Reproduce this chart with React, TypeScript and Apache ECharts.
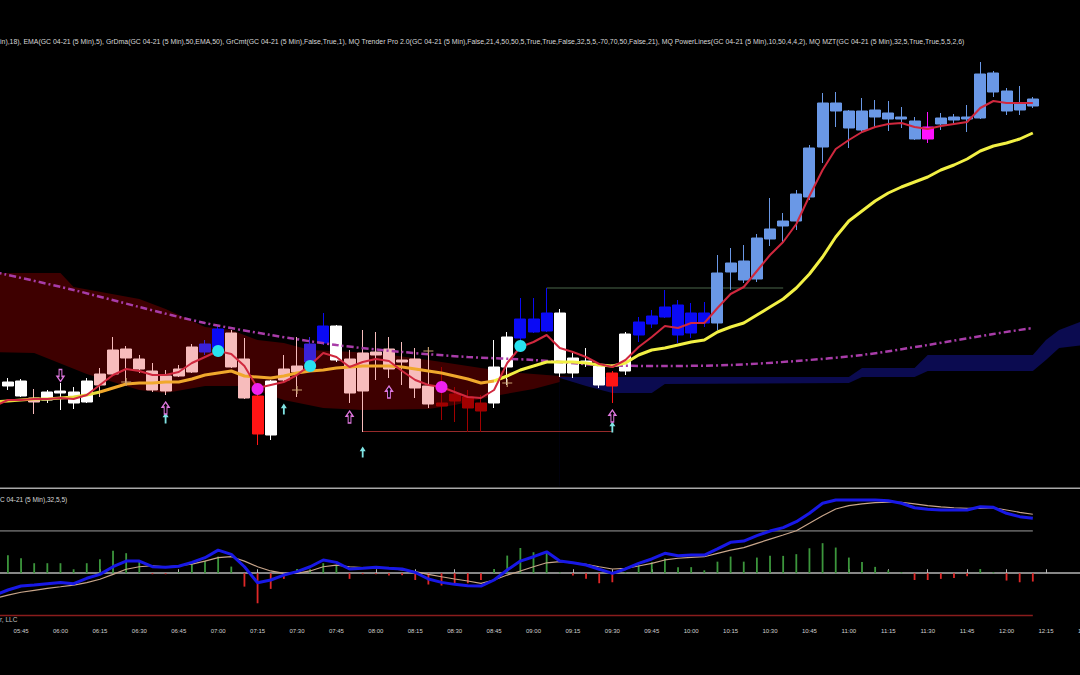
import React, { useEffect, useRef } from "react";
import * as echarts from "echarts";

// ---- categories: 5-minute bars from 05:35 to 12:30 ----
const times: string[] = [];
for (let m = 5 * 60 + 35; m <= 12 * 60 + 30; m += 5) {
  times.push(`${String(Math.floor(m / 60)).padStart(2, "0")}:${String(m % 60).padStart(2, "0")}`);
}

// ---- candles from 05:40 : [open, close, low, high] ----
const ohlc: number[][] = [
  [1726.4, 1726.8, 1726.0, 1727.2], [1725.4, 1726.9, 1725.3, 1727.1], [1725.2, 1724.8, 1723.6, 1726.1],
  [1725.0, 1725.8, 1724.7, 1726.0], [1725.7, 1725.9, 1724.0, 1726.7], [1724.7, 1725.8, 1724.1, 1726.3],
  [1724.8, 1726.9, 1724.7, 1727.2], [1727.6, 1726.5, 1725.3, 1728.2], [1730.0, 1727.6, 1727.5, 1731.3],
  [1730.1, 1729.2, 1726.7, 1730.4], [1729.1, 1728.1, 1727.7, 1729.5], [1727.9, 1726.0, 1725.8, 1728.7],
  [1727.4, 1725.9, 1725.5, 1728.0], [1728.1, 1727.4, 1727.3, 1728.5], [1730.3, 1727.8, 1727.7, 1730.6],
  [1729.8, 1730.6, 1729.5, 1731.0], [1730.2, 1732.1, 1729.8, 1732.5], [1731.7, 1728.3, 1728.2, 1732.0],
  [1729.1, 1725.2, 1725.1, 1731.2], [1725.4, 1721.6, 1720.5, 1725.6], [1721.5, 1726.9, 1721.0, 1727.0],
  [1728.1, 1727.0, 1726.7, 1729.5], [1728.4, 1727.8, 1725.3, 1731.3], [1728.8, 1730.6, 1728.6, 1731.3],
  [1730.7, 1732.4, 1730.5, 1733.7], [1729.0, 1732.4, 1728.8, 1732.5], [1729.1, 1725.7, 1724.7, 1730.0],
  [1729.7, 1725.9, 1721.8, 1732.0], [1729.8, 1729.5, 1727.0, 1731.8], [1730.1, 1728.1, 1727.2, 1731.3],
  [1729.0, 1728.8, 1726.5, 1730.8], [1729.1, 1726.2, 1725.2, 1730.2], [1726.4, 1724.6, 1724.2, 1730.0],
  [1724.7, 1724.4, 1723.0, 1728.3], [1725.6, 1724.9, 1722.8, 1726.3], [1725.3, 1724.2, 1721.8, 1726.0],
  [1724.7, 1723.9, 1721.8, 1725.5], [1724.7, 1728.3, 1724.2, 1731.0], [1728.3, 1731.3, 1726.5, 1731.8],
  [1731.2, 1733.1, 1730.4, 1735.2], [1731.8, 1733.1, 1731.7, 1735.2], [1731.9, 1733.7, 1731.8, 1736.2],
  [1733.7, 1727.7, 1727.3, 1734.1], [1727.7, 1729.2, 1727.2, 1729.7], [1728.7, 1728.9, 1728.3, 1730.2],
  [1728.4, 1726.5, 1726.2, 1728.7], [1727.7, 1726.4, 1724.7, 1727.9], [1727.9, 1731.6, 1727.5, 1731.8],
  [1731.5, 1732.8, 1730.8, 1733.3], [1732.6, 1733.4, 1732.2, 1734.0], [1733.3, 1734.3, 1733.2, 1736.0],
  [1734.5, 1731.5, 1730.7, 1735.0], [1731.7, 1733.7, 1731.2, 1734.7], [1732.7, 1733.7, 1732.3, 1734.8],
  [1732.7, 1737.7, 1732.0, 1739.5], [1737.8, 1738.7, 1736.0, 1740.2], [1737.0, 1738.9, 1736.7, 1740.5],
  [1737.1, 1741.2, 1736.8, 1741.6], [1741.1, 1742.1, 1740.4, 1745.2], [1742.4, 1742.9, 1740.8, 1743.7],
  [1742.9, 1745.6, 1742.0, 1746.0], [1745.3, 1750.2, 1745.0, 1750.5], [1750.3, 1754.7, 1748.7, 1755.7],
  [1754.7, 1753.9, 1752.3, 1755.8], [1753.9, 1752.2, 1750.2, 1754.0], [1752.0, 1753.9, 1751.8, 1755.2],
  [1753.3, 1754.0, 1752.3, 1755.0], [1753.7, 1753.1, 1751.9, 1754.9], [1753.1, 1753.3, 1752.2, 1754.3],
  [1752.9, 1751.1, 1751.0, 1753.3], [1751.1, 1752.3, 1750.7, 1753.8], [1752.6, 1753.2, 1752.0, 1753.7],
  [1753.0, 1753.3, 1752.5, 1753.6], [1753.1, 1753.3, 1751.8, 1754.5], [1753.2, 1757.6, 1753.1, 1758.8],
  [1757.7, 1755.8, 1755.3, 1757.9], [1755.9, 1753.9, 1753.5, 1756.2], [1754.0, 1754.7, 1753.5, 1756.4],
  [1754.4, 1755.1, 1754.2, 1755.3],
];

// painted bar state from the trend indicator
const tone: string[] = [
  "W", "W", "P", "W", "W", "W", "W", "P", "P", "P", "P", "P", "P", "P", "P", "BP", "B", "P", "P", "R",
  "W", "P", "P", "BP", "B", "W", "P", "P", "P", "P", "P", "P", "P", "DR", "DR", "DR", "DR", "W", "W", "B",
  "B", "B", "W", "W", "W", "W", "R", "W", "B", "B", "B", "B", "B", "B", "LB", "LB", "LB", "LB", "LB", "LB",
  "LB", "LB", "LB", "LB", "LB", "LB", "LB", "LB", "LB", "LB", "M", "LB", "LB", "LB", "LB", "LB", "LB", "LB", "LB",
];
const toneColor: Record<string, string> = {
  W: "#ffffff", P: "#f7bcbc", R: "#ff1414", DR: "#a00000", B: "#0a0af5", BP: "#3a22d8", LB: "#6a98e6", M: "#ff10ff",
};

// ---- overlays from 05:35 ----
const ema5 = [
  1724.4,
  1725.0, 1725.0, 1725.1, 1725.1, 1725.2, 1725.1, 1725.5, 1726.5, 1727.5, 1728.1,
  1727.9, 1727.5, 1727.5, 1727.8, 1728.7, 1729.3, 1729.9, 1729.6, 1728.4, 1726.2,
  1726.5, 1726.8, 1727.5, 1728.5, 1729.7, 1729.3, 1728.3, 1728.8, 1729.1, 1728.9,
  1727.9, 1727.0, 1726.5, 1726.3, 1725.8, 1725.3, 1725.2, 1726.0, 1728.7, 1730.3,
  1730.8, 1731.5, 1730.2, 1729.8, 1729.3, 1728.6, 1728.3, 1729.0, 1730.3, 1731.3,
  1732.4, 1732.2, 1732.7, 1732.7, 1734.2, 1735.6, 1736.3, 1737.9, 1739.5, 1740.8,
  1742.6, 1745.4, 1748.0, 1750.1, 1751.0, 1751.8, 1752.3, 1752.6, 1752.7, 1752.3,
  1752.1, 1752.4, 1752.6, 1752.8, 1754.2, 1754.9, 1754.7, 1754.7, 1754.7,
];
const dma50 = [
  1724.8,
  1724.9, 1725.0, 1725.1, 1725.1, 1725.2, 1725.3, 1725.5, 1725.8, 1726.2, 1726.6,
  1726.7, 1726.7, 1726.8, 1726.8, 1727.1, 1727.5, 1727.7, 1727.9, 1727.4, 1727.3,
  1727.2, 1727.4, 1727.7, 1727.9, 1728.0, 1728.2, 1728.3, 1728.4, 1728.4, 1728.4,
  1728.3, 1728.1, 1727.9, 1727.7, 1727.4, 1727.1, 1726.7, 1726.9, 1727.4, 1728.0,
  1728.4, 1728.8, 1728.8, 1728.8, 1728.7, 1728.5, 1728.4, 1728.7, 1729.5, 1730.0,
  1730.2, 1730.5, 1730.8, 1731.0, 1731.8, 1732.3, 1732.7, 1733.5, 1734.3, 1735.1,
  1736.2, 1737.6, 1739.3, 1741.3, 1742.9, 1743.9, 1744.9, 1745.7, 1746.3, 1746.8,
  1747.3, 1748.0, 1748.5, 1749.1, 1749.9, 1750.4, 1750.7, 1751.1, 1751.7,
];
const purpleLine = [
  ["05:35", 1737.8], ["06:05", 1736.0], ["06:30", 1734.3], ["06:55", 1732.7], ["07:20", 1731.5],
  ["07:45", 1730.5], ["08:10", 1729.8], ["08:35", 1729.3], ["09:00", 1729.0], ["09:25", 1728.5],
  ["09:50", 1728.4], ["10:15", 1728.5], ["10:40", 1728.9], ["11:05", 1729.5], ["11:30", 1730.5],
  ["11:55", 1731.6], ["12:10", 1732.2],
];
const redCloudTop = [
  ["05:35", 1737.7], ["06:00", 1737.7], ["06:05", 1736.3], ["06:30", 1735.1], ["06:40", 1734.1],
  ["06:55", 1732.3], ["07:05", 1732.0], ["07:15", 1731.0], ["07:25", 1730.7], ["07:35", 1730.0],
  ["08:00", 1729.7], ["08:20", 1729.0], ["08:40", 1728.2], ["08:55", 1727.7], ["09:05", 1727.5], ["09:15", 1727.3],
];
const redCloudBottom = [
  ["05:35", 1729.8], ["05:50", 1729.7], ["06:10", 1727.6], ["06:30", 1726.0], ["06:40", 1725.7],
  ["06:55", 1726.4], ["07:10", 1726.4], ["07:25", 1725.0], ["07:40", 1724.2], ["07:55", 1724.0],
  ["08:20", 1724.1], ["08:30", 1724.5], ["08:45", 1725.4], ["09:00", 1726.1], ["09:10", 1726.8], ["09:15", 1727.2],
];
const blueCloudTop = [
  ["09:10", 1727.3], ["09:20", 1727.3], ["09:45", 1727.3], ["11:00", 1727.3], ["11:05", 1728.2],
  ["11:25", 1728.2], ["11:30", 1729.5], ["12:10", 1729.5], ["12:15", 1731.0], ["12:20", 1732.0], ["12:30", 1733.0],
];
const blueCloudBottom = [
  ["09:10", 1727.2], ["09:20", 1726.4], ["09:30", 1725.7], ["09:45", 1725.7], ["09:50", 1726.6],
  ["11:00", 1726.7], ["11:05", 1727.3], ["11:25", 1727.3], ["11:30", 1727.9], ["12:10", 1727.9],
  ["12:15", 1729.0], ["12:20", 1730.2], ["12:30", 1730.5],
];
const lowBracket = [["07:55", 1721.85], ["09:30", 1721.85]];
const highBracket = [["09:05", 1736.2], ["10:35", 1736.2]];

const cyanDots = [["07:00", 1729.9], ["07:35", 1728.4], ["08:55", 1730.4]];
const magentaDots = [["07:15", 1726.1], ["08:25", 1726.3]];
const pinkUpArrows = [["06:40", 1724.2], ["07:50", 1723.3], ["08:05", 1725.8], ["09:30", 1723.4]];
const pinkDownArrows = [["06:00", 1727.45]];
const cyanUpArrows = [["06:40", 1723.2], ["07:25", 1724.1], ["07:55", 1719.8], ["09:30", 1722.3]];
const dojiCrosses = [["06:25", 1726.8], ["07:30", 1726.0], ["08:20", 1729.9], ["08:50", 1726.7]];

// ---- MZT lower panel ----
const mztHist = [
  12.8, 10.6, 7.1, 7.1, 7.1, 2.8, 7.1, 9.9, 16.0, 14.2,
  9.2, -0.7, -0.7, 0.7, 6.4, 8.9, 11.8, 4.7, -9.5, -21.3,
  -11.1, -4.0, 3.0, 2.8, 7.1, 5.7, -4.0, -0.7, -0.7, -1.6,
  -1.4, -4.8, -8.0, -8.7, -7.1, -7.1, -4.8, 3.0, 12.5, 17.9,
  14.9, 15.3, 0.7, -1.6, -4.0, -7.1, -6.4, 0.7, 5.7, 7.8,
  10.4, 4.3, 4.3, 2.1, 8.2, 11.8, 8.2, 11.1, 12.3, 12.3,
  13.5, 17.7, 21.3, 18.2, 11.1, 8.0, 4.5, 2.1, 0.7, -4.8,
  -4.8, -4.0, -3.3, -2.1, 3.0, 0.7, -5.2, -6.4, -5.9,
];
const mztFast = [
  -15.5,
  -11.9, -9.1, -8.4, -7.4, -6.5, -7.4, -3.6, -0.8, 4.6, 8.6,
  8.6, 4.6, 4.2, 4.9, 7.7, 11.0, 16.4, 13.4, 4.6, -6.7,
  -4.8, -1.3, 1.1, 4.6, 9.4, 7.7, 3.0, 3.5, 4.2, 3.5,
  3.0, 0.6, -4.1, -6.5, -7.9, -8.9, -9.1, -4.8, 2.3, 8.6,
  11.7, 15.2, 8.6, 7.4, 5.8, 2.8, -0.1, 3.0, 7.0, 10.1,
  14.1, 12.4, 12.9, 12.9, 17.2, 21.9, 22.8, 26.6, 29.9, 32.3,
  36.5, 42.5, 49.6, 51.9, 51.9, 51.9, 51.9, 51.4, 49.6, 46.4,
  45.3, 44.8, 44.8, 44.8, 47.1, 46.7, 42.5, 40.1, 38.9,
];
const mztSlow = [
  -17.8,
  -15.5, -13.5, -12.1, -10.7, -9.6, -8.4, -6.7, -4.3, -0.8, 2.8,
  4.6, 5.3, 4.6, 5.3, 6.5, 8.6, 11.0, 11.7, 8.6, 4.6,
  1.6, -0.1, -0.1, 1.6, 4.6, 5.8, 4.6, 3.9, 3.9, 3.5,
  2.3, 1.1, -0.8, -2.5, -4.1, -5.5, -7.2, -4.8, -1.3, 1.6,
  4.6, 7.4, 8.2, 7.4, 6.3, 4.6, 3.0, 3.5, 5.1, 7.0,
  9.4, 10.6, 11.3, 11.7, 14.1, 16.4, 18.1, 21.2, 24.2, 27.1,
  30.1, 35.4, 40.8, 45.5, 47.9, 49.1, 50.0, 50.3, 50.3, 49.1,
  47.9, 47.1, 46.4, 46.0, 46.0, 46.4, 44.8, 43.2, 41.8,
];
const mztLevels = [30, -30];

const legendText =
  "in),18), EMA(GC 04-21 (5 Min),5), GrDma(GC 04-21 (5 Min),50,EMA,50), GrCmt(GC 04-21 (5 Min),False,True,1), MQ Trender Pro 2.0(GC 04-21 (5 Min),False,21,4,50,50,5,True,True,False,32,5,5,-70,70,50,False,21), MQ PowerLines(GC 04-21 (5 Min),10,50,4,4,2), MQ MZT(GC 04-21 (5 Min),32,5,True,True,5,5,2,6)";
const panelText = "C 04-21 (5 Min),32,5,5)";
const footText = "r, LLC";

const FONT = '"Liberation Sans", Arial, sans-serif';
const quarter = (_i: number, v: string) => Number(v.slice(3)) % 15 === 0;

function buildOption(): any {
  const candleData = ohlc.map((c, i) => {
    const col = toneColor[tone[i]];
    return {
      value: [times[i + 1], c[0], c[1], c[2], c[3]],
      itemStyle: { color: col, color0: col, borderColor: col, borderColor0: col, borderWidth: 1 },
    };
  });
  const histData = mztHist.map((v, i) => ({
    value: [times[i + 1], v],
    itemStyle: { color: v >= 0 ? "#3c963c" : "#e02828" },
  }));
  const lastBar = times[ohlc.length];
  const seg = (from: number, to: number) => dma50.map((v, k) => (k >= from && k <= to ? v : null));
  const pinkArrow = "#e078e0";
  const lineBase = { type: "line", symbol: "none", silent: true, xAxisIndex: 0, yAxisIndex: 0, z: 4 };
  const cloudBase = { ...lineBase, z: 1, lineStyle: { width: 0 } };

  return {
    animation: false,
    backgroundColor: "#000000",
    grid: [
      { left: -11.8, right: -11.95, top: 40, height: 446, outerBoundsMode: "none", containLabel: false },
      { left: -11.8, right: -11.95, top: 490, height: 134, outerBoundsMode: "none", containLabel: false },
    ],
    xAxis: [
      { type: "category", gridIndex: 0, data: times, boundaryGap: true, show: false },
      {
        type: "category",
        gridIndex: 1,
        data: times,
        boundaryGap: true,
        axisLine: { show: true, lineStyle: { color: "#b4b4b4", width: 1.5 } },
        axisTick: { show: true, inside: true, length: 4, alignWithLabel: true, interval: quarter, lineStyle: { color: "#b4b4b4" } },
        axisLabel: { interval: quarter, color: "#d0d0d0", fontSize: 6, margin: 4, fontFamily: FONT },
        splitLine: { show: false },
      },
    ],
    yAxis: [
      { type: "value", gridIndex: 0, min: 1716.4, max: 1761.0, show: false, splitLine: { show: false } },
      { type: "value", gridIndex: 1, min: -36, max: 59, show: false, splitLine: { show: false } },
    ],
    graphic: [
      { type: "text", x: 0, y: 41, silent: true, style: { text: legendText, fill: "#d8d8d8", font: `6.92px ${FONT}`, textVerticalAlign: "middle" } },
      { type: "rect", silent: true, shape: { x: 0, y: 487.5, width: 1080, height: 1.6 }, style: { fill: "#a8a8a8" } },
      { type: "text", x: 0, y: 499, silent: true, style: { text: panelText, fill: "#d8d8d8", font: `6.5px ${FONT}`, textVerticalAlign: "middle" } },
      { type: "text", x: 0, y: 619, silent: true, style: { text: footText, fill: "#c0c0c0", font: `6.5px ${FONT}`, textVerticalAlign: "middle" } },
    ],
    series: [
      { ...cloudBase, name: "cloudRedTop", data: redCloudTop, areaStyle: { color: "#3e0000", opacity: 1, origin: "start" } },
      { ...cloudBase, name: "cloudRedBottom", data: redCloudBottom, areaStyle: { color: "#000000", opacity: 1, origin: "start" } },
      { ...cloudBase, name: "cloudBlueTop", data: blueCloudTop, areaStyle: { color: "#0b0b50", opacity: 1, origin: "start" } },
      { ...cloudBase, name: "cloudBlueBottom", data: blueCloudBottom, areaStyle: { color: "#000000", opacity: 1, origin: "start" } },
      { ...lineBase, z: 2, name: "lowBracket", data: lowBracket, lineStyle: { color: "#962a2a", width: 1.2 } },
      { ...lineBase, z: 2, name: "highBracket", data: highBracket, lineStyle: { color: "#4a664a", width: 1.2 } },
      {
        type: "candlestick",
        name: "GC 04-21",
        xAxisIndex: 0,
        yAxisIndex: 0,
        z: 3,
        barWidth: 11.5,
        encode: { x: 0, y: [1, 2, 3, 4] },
        data: candleData,
        silent: true,
      },
      { ...lineBase, name: "purple", data: purpleLine, smooth: 0.3, lineStyle: { color: "#a83ca8", width: 2.5, type: [7, 3, 2, 3] } },
      { ...lineBase, name: "dma50a", data: seg(0, 8), lineStyle: { color: "#e6dc3c", width: 3 } },
      { ...lineBase, name: "dma50b", data: seg(8, 38), lineStyle: { color: "#f0a82c", width: 3 } },
      { ...lineBase, name: "dma50c", data: seg(38, 80), lineStyle: { color: "#f2f044", width: 3 } },
      { ...lineBase, name: "ema5", data: ema5, lineStyle: { color: "#d0283e", width: 2 } },
      { type: "scatter", z: 5, xAxisIndex: 0, yAxisIndex: 0, silent: true, data: cyanDots, symbolSize: 12, itemStyle: { color: "#28e2f0", opacity: 1 } },
      { type: "scatter", z: 5, xAxisIndex: 0, yAxisIndex: 0, silent: true, data: magentaDots, symbolSize: 12, itemStyle: { color: "#ee22ee", opacity: 1 } },
      {
        type: "scatter", z: 5, xAxisIndex: 0, yAxisIndex: 0, silent: true, data: cyanUpArrows,
        symbol: "path://M5,0 L10,6 L6.5,6 L6.5,14 L3.5,14 L3.5,6 L0,6 Z", symbolSize: [6, 11],
        itemStyle: { color: "#80e4e4", opacity: 1 },
      },
      {
        type: "scatter", z: 5, xAxisIndex: 0, yAxisIndex: 0, silent: true, data: pinkUpArrows,
        symbol: "path://M5,0 L10,6 L7,6 L7,14 L3,14 L3,6 L0,6 Z", symbolSize: [7, 12],
        itemStyle: { color: "#000000", borderColor: pinkArrow, borderWidth: 1.3, opacity: 1 },
      },
      {
        type: "scatter", z: 5, xAxisIndex: 0, yAxisIndex: 0, silent: true, data: pinkDownArrows,
        symbol: "path://M5,14 L10,8 L7,8 L7,0 L3,0 L3,8 L0,8 Z", symbolSize: [7, 12],
        itemStyle: { color: "#000000", borderColor: pinkArrow, borderWidth: 1.3, opacity: 1 },
      },
      {
        type: "scatter", z: 5, xAxisIndex: 0, yAxisIndex: 0, silent: true, data: dojiCrosses,
        symbol: "path://M0,5 L10,5 M5,0 L5,10", symbolSize: [10, 8],
        itemStyle: { color: "rgba(0,0,0,0)", borderColor: "#c8a070", borderWidth: 1, opacity: 1 },
      },
      // lower panel
      { type: "bar", xAxisIndex: 1, yAxisIndex: 1, silent: true, barWidth: 1.8, data: histData, encode: { x: 0, y: 1 } },
      ...mztLevels.map((lv, j) => ({
        type: "line", xAxisIndex: 1, yAxisIndex: 1, symbol: "none", silent: true,
        data: [[times[0], lv], [lastBar, lv]],
        lineStyle: { color: j === 0 ? "#5a5a5a" : "#8a1c1c", width: 1.6 },
      })),
      { type: "line", xAxisIndex: 1, yAxisIndex: 1, symbol: "none", silent: true, data: mztSlow, lineStyle: { color: "#c8a58a", width: 1.2 } },
      { type: "line", xAxisIndex: 1, yAxisIndex: 1, symbol: "none", silent: true, data: mztFast, lineStyle: { color: "#1818e6", width: 3 } },
    ],
  };
}

export default function App() {
  const ref = useRef<HTMLDivElement>(null);
  useEffect(() => {
    if (!ref.current) return;
    const chart = echarts.init(ref.current, null, { renderer: "svg" });
    chart.setOption(buildOption());
    return () => chart.dispose();
  }, []);
  return (
    <div
      ref={ref}
      style={{ position: "fixed", left: 0, top: 0, width: 1080, height: 675, background: "#000000" }}
    />
  );
}
